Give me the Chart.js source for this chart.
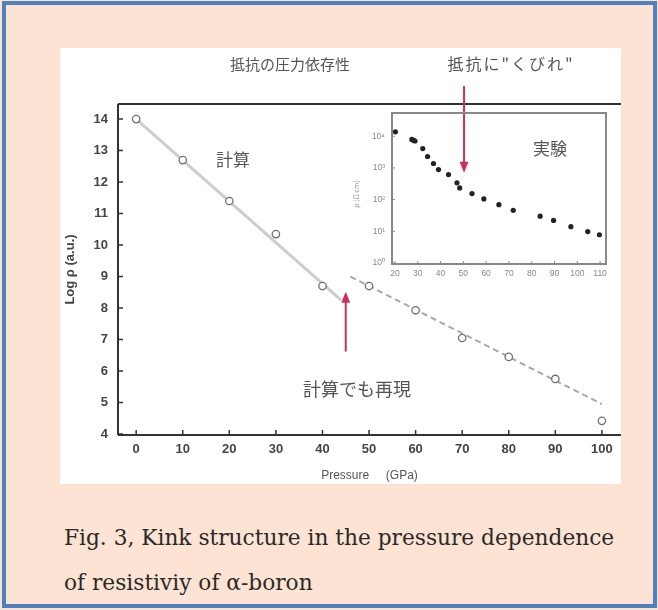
<!DOCTYPE html>
<html><head><meta charset="utf-8">
<script src="https://cdn.jsdelivr.net/npm/chart.js@4/dist/chart.umd.min.js"></script>
<style>
html,body{margin:0;padding:0;width:658px;height:610px;overflow:hidden;background:#FDE3D3;}
#frame{position:absolute;left:2px;top:1px;width:647px;height:599px;border:4px solid #4F81BD;}
#panel{position:absolute;left:60px;top:48px;width:561px;height:436px;background:#fff;overflow:hidden;}
#main{position:absolute;left:0;top:0;}
#inset{position:absolute;left:285px;top:53px;}
.t{position:absolute;transform:translate(-50%,-50%);white-space:nowrap;font-family:"Noto Sans CJK JP",sans-serif;color:#555;}
.cap{position:absolute;left:64px;font-family:"DejaVu Serif",serif;font-size:21.7px;color:#2a2a2a;white-space:nowrap;transform:translateY(-50%);}
</style></head>
<body>
<div id="frame"></div>
<div id="panel">
  <canvas id="main" width="600" height="436"></canvas>
  <canvas id="inset" width="270" height="187"></canvas>
  <div class="t" style="left:230px;top:15px;font-size:15px;">抵抗の圧力依存性</div>
  <div class="t" style="left:451px;top:15px;font-size:16px;letter-spacing:2px;">抵抗に"くびれ"</div>
  <div class="t" style="left:173px;top:110px;font-size:17px;">計算</div>
  <div class="t" style="left:297px;top:340px;font-size:18px;">計算でも再現</div>
  <div class="t" style="left:490px;top:99px;font-size:17px;">実験</div>
  <div class="t" style="left:296px;top:146px;font-size:7px;color:#999;transform:translate(-50%,-50%) rotate(-90deg);">ρ (Ω cm)</div>
</div>
<div class="cap" style="top:537px;">Fig. 3, Kink structure in the pressure dependence</div>
<div class="cap" style="top:582px;">of resistiviy of α-boron</div>
<script>
// ---- main chart data (calculation) ----
const pressureGPa = [0, 10, 20, 30, 40, 50, 60, 70, 80, 90, 100];
const logRhoCalc  = [14.0, 12.7, 11.4, 10.35, 8.7, 8.7, 7.93, 7.05, 6.45, 5.75, 4.42];
const fitLowP  = [0, 44];
const fitLowV  = [14.0, 8.25];
const fitHighP = [46, 100];
const fitHighV = [9.0, 4.95];
const xTickVals = [0, 10, 20, 30, 40, 50, 60, 70, 80, 90, 100];
const yTickVals = [4, 5, 6, 7, 8, 9, 10, 11, 12, 13, 14];
// ---- inset data (experiment) ----
const expP   = [20.2, 27.4, 28.2, 28.8, 32.2, 34.3, 36.9, 39.1, 43.5, 47.2, 48.4, 53.8, 59.0, 65.6, 71.9, 83.7, 89.6, 97.2, 104.6, 109.7];
const expRho = [13800, 7940, 7400, 7080, 4070, 2290, 1380, 890, 617, 339, 234, 155, 105, 69, 46, 30, 22, 14, 9.8, 7.8];
const insetXTicks = [20, 30, 40, 50, 60, 70, 80, 90, 100, 110];
const insetYTicks = [1, 10, 100, 1000, 10000];
const insetYLabels = ['10⁰', '10¹', '10²', '10³', '10⁴'];
// annotation arrows (data coordinates of main chart)
const arrowCalc = {x: 45, from: 6.62, to: 8.52};
const arrowExp  = {x: 70.4, from: 15.05, to: 12.3};

const toXY = (xs, ys) => xs.map((x, i) => ({x, y: ys[i]}));

function drawArrow(ctx, x, y1, y2, color) {
  ctx.save();
  ctx.strokeStyle = color; ctx.fillStyle = color; ctx.lineWidth = 2;
  const dir = y2 > y1 ? 1 : -1;
  ctx.beginPath(); ctx.moveTo(x, y1); ctx.lineTo(x, y2 - dir * 8); ctx.stroke();
  ctx.beginPath(); ctx.moveTo(x, y2); ctx.lineTo(x - 4.5, y2 - dir * 11); ctx.lineTo(x + 4.5, y2 - dir * 11); ctx.closePath(); ctx.fill();
  ctx.restore();
}

const framePlugin = {
  id: 'frameTicks',
  afterDraw(chart, args, opts) {
    const {ctx, chartArea: a, scales} = chart;
    ctx.save();
    ctx.strokeStyle = opts.color; ctx.lineWidth = opts.width;
    ctx.beginPath();
    ctx.moveTo(a.left, a.bottom); ctx.lineTo(a.left, a.top);
    if (opts.box) { ctx.lineTo(a.right, a.top); ctx.lineTo(a.right, a.bottom); ctx.closePath(); }
    ctx.moveTo(a.left, a.bottom); ctx.lineTo(a.right + (opts.box ? 0 : 60), a.bottom);
    if (!opts.box && opts.top) { ctx.moveTo(a.left, a.top); ctx.lineTo(a.right + 60, a.top); }
    ctx.stroke();
    ctx.lineWidth = opts.tickWidth;
    ctx.beginPath();
    scales.x.ticks.forEach(t => { const px = scales.x.getPixelForValue(t.value); ctx.moveTo(px, a.bottom); ctx.lineTo(px, a.bottom - opts.len); });
    scales.y.ticks.forEach(t => { const py = scales.y.getPixelForValue(t.value); ctx.moveTo(a.left, py); ctx.lineTo(a.left + opts.len, py); });
    ctx.stroke();
    if (opts.arrows) {
      opts.arrows.forEach(ar => drawArrow(ctx, scales.x.getPixelForValue(ar.x), scales.y.getPixelForValue(ar.from), scales.y.getPixelForValue(ar.to), '#cc2f5a'));
    }
    ctx.restore();
  }
};

new Chart(document.getElementById('main'), {
  type: 'scatter',
  data: { datasets: [
    { data: toXY(fitLowP, fitLowV), showLine: true, borderColor: '#cdcdcd', borderWidth: 3, pointRadius: 0, order: 2 },
    { data: toXY(fitHighP, fitHighV), showLine: true, borderColor: '#a8a8a8', borderWidth: 2, borderDash: [6, 4], pointRadius: 0, order: 2 },
    { data: toXY(pressureGPa, logRhoCalc), pointRadius: 3.7, pointBorderColor: '#707070', pointBackgroundColor: '#fff', pointBorderWidth: 1.3, order: 0, clip: false }
  ]},
  options: {
    responsive: false, devicePixelRatio: 1, animation: false,
    layout: { padding: { top: 56, right: 39, left: 0, bottom: 0 } },
    plugins: { legend: { display: false }, tooltip: { enabled: false },
      frameTicks: { color: '#333', width: 2, tickWidth: 1.5, len: 5, top: true, arrows: [arrowCalc, arrowExp] } },
    scales: {
      x: { type: 'linear', min: -3.9, max: 104.1,
        afterBuildTicks: s => { s.ticks = xTickVals.map(v => ({value: v})); },
        afterFit: s => { s.height = 49; },
        grid: { display: false, drawTicks: false }, border: { display: false },
        ticks: { padding: 7, maxRotation: 0, autoSkip: false, color: '#444', font: { family: 'Liberation Sans', size: 13, weight: 'bold' } },
        title: { display: true, text: 'Pressure     (GPa)', color: '#555', padding: { top: 4, bottom: 1 }, font: { family: 'Liberation Sans', size: 12 } } },
      y: { type: 'linear', min: 3.97, max: 14.48,
        afterBuildTicks: s => { s.ticks = yTickVals.map(v => ({value: v})); },
        afterFit: s => { s.width = 58; },
        grid: { display: false, drawTicks: false }, border: { display: false },
        ticks: { padding: 10, color: '#444', font: { family: 'Liberation Sans', size: 13, weight: 'bold' } },
        title: { display: true, text: 'Log ρ (a.u.)', color: '#444', padding: { top: 3, bottom: 0 }, font: { family: 'Liberation Sans', size: 13, weight: 'bold' } } }
    }
  },
  plugins: [framePlugin]
});

new Chart(document.getElementById('inset'), {
  type: 'scatter',
  data: { datasets: [
    { data: toXY(expP, expRho), pointRadius: 2.6, pointBorderWidth: 0, pointBackgroundColor: '#222' }
  ]},
  options: {
    responsive: false, devicePixelRatio: 1, animation: false,
    layout: { padding: { top: 5, right: 9, left: 0, bottom: 0 } },
    plugins: { legend: { display: false }, tooltip: { enabled: false },
      frameTicks: { color: '#888', width: 2, tickWidth: 1, len: 3, box: true } },
    scales: {
      x: { type: 'linear', min: 18.7, max: 112.6,
        afterBuildTicks: s => { s.ticks = insetXTicks.map(v => ({value: v})); },
        afterFit: s => { s.height = 24; },
        grid: { display: false, drawTicks: false }, border: { display: false },
        ticks: { padding: 5, maxRotation: 0, autoSkip: false, color: '#888', font: { family: 'Liberation Sans', size: 8.5 } } },
      y: { type: 'logarithmic', min: 0.93, max: 53700,
        afterBuildTicks: s => { s.ticks = insetYTicks.map(v => ({value: v})); },
        afterFit: s => { s.width = 47; },
        grid: { display: false, drawTicks: false }, border: { display: false },
        ticks: { padding: 7, color: '#888', font: { family: 'Liberation Sans', size: 8.5 },
          callback: (v) => { const i = insetYTicks.indexOf(v); return i >= 0 ? insetYLabels[i] : ''; } } }
    }
  },
  plugins: [framePlugin]
});
</script>
</body></html>
